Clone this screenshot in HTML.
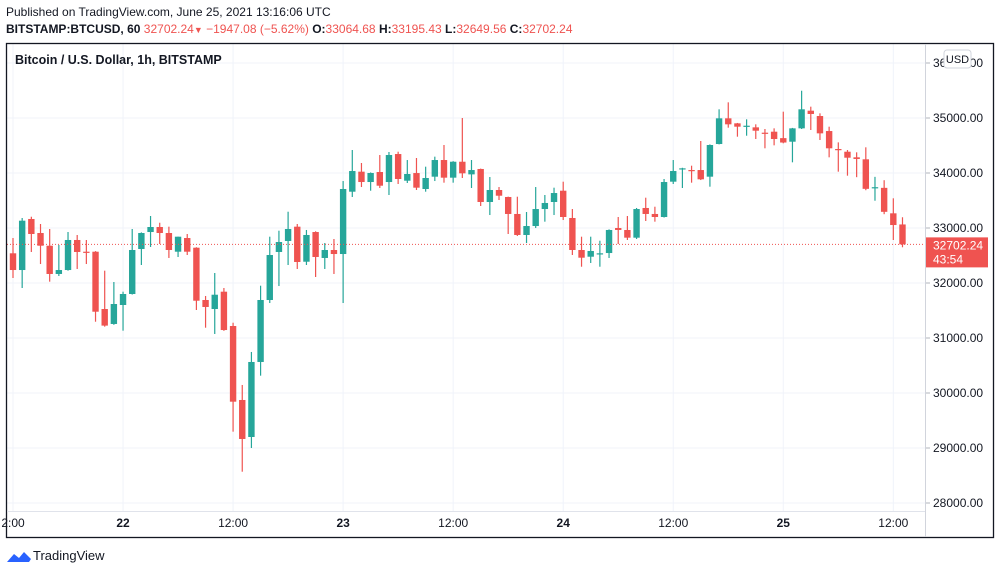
<!DOCTYPE html>
<html><head><meta charset="utf-8"><style>
body{margin:0;width:1000px;height:574px;background:#fff;overflow:hidden;font-family:"Liberation Sans",sans-serif}
svg text{font-family:"Liberation Sans",sans-serif}
</style></head><body>
<svg id="c" width="1000" height="574" xmlns="http://www.w3.org/2000/svg">
<text x="6" y="16" font-size="12" fill="#131722">Published on TradingView.com, June 25, 2021 13:16:06 UTC</text>
<text x="6" y="33" font-size="12" fill="#131722"><tspan font-weight="bold">BITSTAMP:BTCUSD, 60</tspan> <tspan fill="#ef5350">32702.24</tspan><tspan fill="#ef5350" font-size="9">▼</tspan><tspan fill="#ef5350"> −1947.08 (−5.62%)</tspan> <tspan font-weight="bold">O:</tspan><tspan fill="#ef5350">33064.68</tspan> <tspan font-weight="bold">H:</tspan><tspan fill="#ef5350">33195.43</tspan> <tspan font-weight="bold">L:</tspan><tspan fill="#ef5350">32649.56</tspan> <tspan font-weight="bold">C:</tspan><tspan fill="#ef5350">32702.24</tspan></text>
<g id="grid"></g>
<g id="candles"></g>
<g id="axes"></g>
<rect x="6.5" y="43.5" width="987" height="494" fill="none" stroke="#131722" stroke-width="1.3"/>
<line x1="925.5" y1="44" x2="925.5" y2="537" stroke="#d1d4dc"/>
<line x1="7" y1="511.5" x2="925" y2="511.5" stroke="#e0e3eb"/>
<text x="15" y="64" font-size="12.5" font-weight="bold" fill="#131722">Bitcoin / U.S. Dollar, 1h, BITSTAMP</text>
<g><path d="M7 562 l7 -8 l5 4 l5 -6 l7 7 l-2 3 z" fill="#2962ff"/><text x="33" y="560" font-size="13" fill="#131722">TradingView</text></g>
</svg>
<script>
const opens=[32540,32236,33164,32909,32678,32164,32236,32782,32569,32569,31527,31255,31600,31800,32618,32927,33018,32909,32569,32818,32642,31691,31527,31842,31218,29873,29200,30564,31691,32564,32764,33024,32387,32927,32455,32600,32527,33660,34024,33836,34018,33836,34345,33860,33999,33709,33933,34236,33915,34205,33975,34073,33473,33691,33564,33255,32873,33036,33345,33473,33678,33182,32600,32478,32527,32545,33000,32964,32824,33364,33255,33200,33842,34073,34054,34054,33933,34527,34994,34903,34842,34830,34733,34751,34634,34569,34812,35133,35036,34763,34436,34387,34285,34249,33730,33730,33267,33064.68];
const highs=[32818,33182,33205,33073,32982,32691,32927,32873,32782,32580,32224,32018,31842,32982,32920,33218,33096,33024,32842,32891,32650,31764,32182,31909,31278,30146,30746,31951,32842,32951,33296,33073,32964,32940,32727,32800,33854,34418,34182,34010,34327,34382,34387,34236,34273,34115,34297,34509,34215,35000,34236,34080,33927,33745,33570,33569,33291,33745,33600,33733,33842,33345,32842,32842,32769,32975,33200,33218,33364,33551,33387,33891,34236,34095,34133,34582,34520,35158,35285,34910,34976,34885,34800,34812,35115,34820,35496,35206,35085,34842,34557,34418,34376,34467,33930,33869,33540,33195.43];
const lows=[32091,31909,32564,32345,32024,32127,32224,32255,32345,31296,31206,31240,31133,31790,32327,32655,32709,32455,32473,32509,31509,31187,31073,31130,29297,28569,29000,30315,31636,31945,32327,32255,32327,32109,32255,32164,31636,33564,33745,33678,33727,33600,33800,33818,33691,33660,33854,33824,33824,33909,33727,33400,33236,33509,32891,32855,32727,33000,33115,33236,33145,32509,32296,32364,32296,32455,32709,32782,32800,33127,33115,33190,33800,33727,33824,33872,33751,34520,34824,34660,34678,34618,34449,34503,34540,34194,34800,34782,34600,34285,34024,33951,33924,33687,33496,33251,32782,32649.56];
const closes=[32236,33133,32891,32678,32164,32236,32782,32564,32558,31478,31225,31618,31800,32600,32909,33018,32909,32600,32842,32569,31678,31564,31787,31145,29842,29164,30564,31691,32509,32745,32982,32382,32873,32473,32600,32527,33709,34036,33836,34000,33769,34327,33891,33982,33733,33909,34236,33915,34205,33994,34054,33473,33691,33587,33255,32873,33036,33345,33455,33636,33200,32600,32460,32582,32540,32964,32964,32824,33345,33255,33200,33836,34036,34085,34042,33885,34509,34994,34885,34842,34860,34769,34721,34618,34554,34812,35158,35073,34721,34449,34418,34278,34255,33712,33742,33294,33054,32702.24];
const priceTicks=[28000,29000,30000,31000,32000,33000,34000,35000,36000];
const timeLabels=["2:00","22","12:00","23","12:00","24","12:00","25","12:00"];
const timeHours=[0,12,24,36,48,60,72,84,96];

const NS="http://www.w3.org/2000/svg";
const y=p=>118+(35000-p)*0.055;
const x=i=>13+i*9.17;
function mk(tag,attrs,parent){const e=document.createElementNS(NS,tag);for(const k in attrs)e.setAttribute(k,attrs[k]);parent.appendChild(e);return e;}
const grid=document.getElementById('grid'),cg=document.getElementById('candles'),ax=document.getElementById('axes');
priceTicks.forEach(p=>{
  const yy=y(p);
  const l=mk('line',{x1:7,x2:925,y1:yy,y2:yy,stroke:'#f0f3fa'},grid);
  
  
  const t=mk('text',{x:933,y:yy+4,'font-size':12,fill:'#131722'},ax);
  
  
  t.textContent=p.toFixed(2);
  mk('line',{x1:925,x2:930,y1:yy,y2:yy,stroke:'#b2b5be'},ax);
});
timeLabels.forEach((s,k)=>{
  const xx=x(timeHours[k]);
  const l=mk('line',{x1:xx,x2:xx,y1:44,y2:511,stroke:'#f0f3fa'},grid);
  
  
  const t=mk('text',{x:xx,y:527,'font-size':12,fill:'#131722','text-anchor':'middle','font-weight':(s.indexOf(':')<0?'bold':'normal')},ax);
  
  
  t.textContent=s;
});
opens.forEach((o,i)=>{
  const c=closes[i],up=c>=o,col=up?'#26a69a':'#ef5350';
  const g=mk('g',{},cg);
  
  
  mk('line',{x1:x(i),x2:x(i),y1:y(highs[i]),y2:y(lows[i]),stroke:col,'stroke-width':1.2},g);
  const t=Math.min(y(o),y(c)),h=Math.max(1.2,Math.abs(y(o)-y(c)));
  mk('rect',{x:x(i)-3.2,y:t,width:6.4,height:h,fill:col},g);
});
const last=closes[closes.length-1],ly=y(last);
const pl=mk('line',{x1:7,x2:925,y1:ly,y2:ly,stroke:'#ef5350','stroke-dasharray':'1 2'},ax);


const lb=mk('rect',{x:926,y:ly-7,width:62,height:30,fill:'#ef5350'},ax);


const lt=mk('text',{x:933,y:ly+5,'font-size':12,fill:'#fff'},ax);lt.textContent=last.toFixed(2);
const ct=mk('text',{x:933,y:ly+19,'font-size':12,fill:'#fff'},ax);ct.textContent='43:54';
const ub=mk('rect',{x:944,y:50,width:27,height:18,rx:3,fill:'#fff',stroke:'#d1d4dc'},ax);


const ut=mk('text',{x:957.5,y:63,'font-size':11,fill:'#131722','text-anchor':'middle'},ax);ut.textContent='USD';
</script>
</body></html>
